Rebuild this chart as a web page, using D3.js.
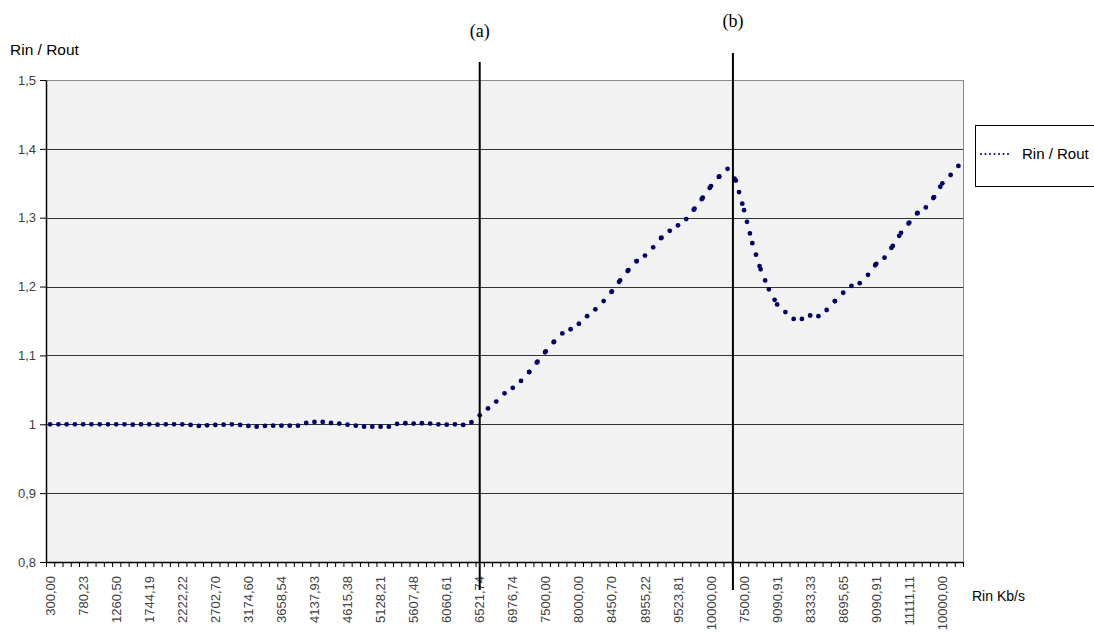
<!DOCTYPE html>
<html><head><meta charset="utf-8">
<script src="https://cdn.jsdelivr.net/npm/d3@7"></script>
<style>body{margin:0;background:#fff}</style></head>
<body><svg id="c" width="1094" height="636"></svg>
<script>
// ---- data ----
const xTickLabels = ["300,00","780,23","1260,50","1744,19","2222,22","2702,70","3174,60","3658,54","4137,93","4615,38","5128,21","5607,48","6060,61","6521,74","6976,74","7500,00","8000,00","8450,70","8955,22","9523,81","10000,00","7500,00","9090,91","8333,33","8695,65","9090,91","11111,11","10000,00"];
const labelEvery = 4;
const ratio = [
1.000,1.000,1.000,1.000,1.000,1.000,1.000,1.000,1.000,1.000,
0.9995,1.000,1.000,0.9995,1.000,1.000,1.000,0.999,0.9976,0.9985,
0.999,0.9995,1.000,0.999,0.9976,0.9966,0.9976,0.998,0.998,0.998,
0.998,1.0019,1.0034,1.0034,1.0019,1.001,0.9995,0.998,0.9966,0.9966,
0.9966,0.9966,1.0005,1.0015,1.001,1.0015,1.001,1.000,0.9995,1.000,
0.999,1.003,1.013,1.023,1.033,1.045,1.053,1.063,1.076,1.091,
1.106,1.120,1.132,1.138,1.146,1.157,1.167,1.179,1.193,1.209,
1.224,1.237,1.245,1.257,1.271,1.281,1.289,1.298,1.313,1.329,
1.346,1.360,1.371,1.354,1.311,1.263,1.225,1.196,1.174,1.163,
1.153,1.153,1.158,1.157,1.166,1.179,1.191,1.201,1.205,1.217,
1.233,1.242,1.259,1.278,1.293,1.307,1.315,1.330,1.350,1.362,
1.376];
const yTicks = [0.8,0.9,1.0,1.1,1.2,1.3,1.4,1.5];
const yTickLabels = ["0,8","0,9","1","1,1","1,2","1,3","1,4","1,5"];
const markerLabels = ["(a)","(b)"];
const markerPos = [52, 82.65];   // category position (index) of the vertical lines
const seriesName = "Rin / Rout";
const yTitle = "Rin / Rout";
const xTitle = "Rin Kb/s";

// ---- layout ----
const W = 1094, H = 636;
const P = {l:46, r:963, t:80, b:562};
const navy = "#000066";
const font = "'Liberation Sans', Arial, sans-serif";
const svg = d3.select("#c");
const N = ratio.length;

const x = d3.scaleBand().domain(d3.range(N)).range([P.l, P.r]).padding(0);
const xc = i => x(i) + x.bandwidth()/2;
const xIdx = d3.scaleLinear().domain([0, N]).range([P.l, P.r]);
const y = d3.scaleLinear().domain([0.8, 1.5]).range([P.b, P.t]);

// plot area
svg.append("rect").attr("x", P.l).attr("y", P.t).attr("width", P.r-P.l).attr("height", P.b-P.t)
  .attr("fill", "#f2f2f2").attr("stroke", "#8c8c8c").attr("stroke-width", 1)
  .attr("shape-rendering","crispEdges");

// gridlines
svg.append("g").selectAll("line").data(yTicks.slice(1)).join("line")
  .attr("x1", P.l).attr("x2", P.r)
  .attr("y1", d => Math.round(y(d))+0.5).attr("y2", d => Math.round(y(d))+0.5)
  .attr("stroke", d => d === 1.5 ? "#8c8c8c" : "#333").attr("stroke-width", 1);

// y axis
const ya = svg.append("g").attr("transform", `translate(${P.l},0)`)
  .call(d3.axisLeft(y).tickValues(yTicks).tickFormat((d,i) => yTickLabels[i]).tickSize(6).tickPadding(4).tickSizeOuter(0));
ya.select(".domain").attr("stroke","#000").attr("stroke-width",1.5);
ya.selectAll(".tick line").attr("stroke","#000");
ya.selectAll("text").attr("font-family", font).attr("font-size", 13).attr("fill", "#404040");

// x axis tick marks (category boundaries)
const xa = svg.append("g").attr("transform", `translate(0,${P.b})`)
  .call(d3.axisBottom(xIdx).tickValues(d3.range(0, N+1)).tickSize(5).tickFormat("").tickSizeOuter(0));
xa.select(".domain").attr("stroke","#000").attr("stroke-width",1.5);
xa.selectAll(".tick line").attr("stroke","#000");

// x axis labels
const xl = svg.append("g").attr("transform", `translate(0,${P.b})`)
  .call(d3.axisBottom(x).tickValues(d3.range(0, N, labelEvery)).tickSize(0).tickFormat(i => xTickLabels[i/labelEvery]));
xl.select(".domain").remove();
xl.selectAll("text").attr("font-family", font).attr("font-size", 13).attr("fill", "#404040")
  .attr("transform","rotate(-90)").attr("text-anchor","end").attr("x", -14).attr("y", 0).attr("dy","0.35em");

// series: dotted line, dot pattern restarting at each data point
const pts = ratio.map((v,i) => [xc(i), y(v)]);
const line = d3.line();
svg.append("g").selectAll("path").data(d3.pairs(pts)).join("path")
  .attr("d", d => line(d)).attr("fill","none").attr("stroke", navy)
  .attr("stroke-width", 4.8).attr("stroke-linecap","round").attr("stroke-dasharray","0 12");

// annotation lines
const ann = svg.append("g");
markerPos.forEach((p, k) => {
  const xx = xIdx(p + 0.5);
  ann.append("line").attr("x1", xx).attr("x2", xx).attr("y1", k === 0 ? 62 : 53).attr("y2", 590)
    .attr("stroke","#000").attr("stroke-width", 2);
  ann.append("text").attr("x", xx).attr("y", k === 0 ? 37 : 27).attr("text-anchor","middle")
    .attr("font-family","'Liberation Serif','Times New Roman',serif").attr("font-size", 18)
    .attr("fill","#000").text(markerLabels[k]);
});

// axis titles
svg.append("text").attr("x", 10).attr("y", 55).attr("font-family", font).attr("font-size", 15.5)
  .attr("fill","#000").text(yTitle);
svg.append("text").attr("x", 972).attr("y", 601).attr("font-family", font).attr("font-size", 14)
  .attr("fill","#000").text(xTitle);

// legend
const lg = svg.append("g");
lg.append("rect").attr("x", 975.5).attr("y", 125.5).attr("width", 140).attr("height", 61)
  .attr("fill","#fff").attr("stroke","#000").attr("stroke-width",1);
lg.append("line").attr("x1", 981).attr("x2", 1012).attr("y1", 154).attr("y2", 154)
  .attr("stroke", navy).attr("stroke-width", 2).attr("stroke-linecap","round").attr("stroke-dasharray","0 4.5");
lg.append("text").attr("x", 1022).attr("y", 159).attr("font-family", font).attr("font-size", 15)
  .attr("fill","#000").text(seriesName);
</script>
</body></html>
